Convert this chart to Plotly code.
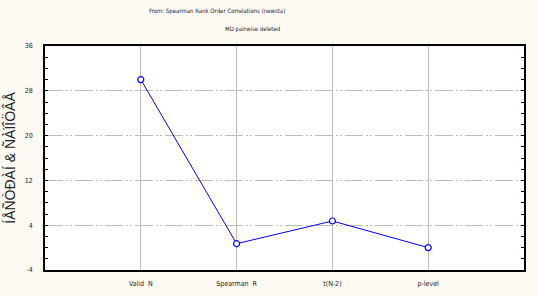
import plotly.graph_objects as go

categories = ["Valid  N", "Spearman  R", "t(N-2)", "p-level"]
values = [30.0, 0.7, 4.75, 0.0]
y_tickvals = [-4, 4, 12, 20, 28, 36]
y_ticktext = ["-4", "4", "12", "20", "28", "36"]

NARROW = "DejaVu Sans Condensed, Liberation Sans Narrow, Liberation Sans, sans-serif"
BG = "#fff9f4"
GRID = "#bcbcbc"
DASH = "18px,3px,2px,2px,2px,3px"

fig = go.Figure()
fig.add_trace(go.Scatter(
    x=list(range(len(categories))), y=values, mode="lines+markers",
    line=dict(color="#0000ff", width=1),
    marker=dict(symbol="circle", size=6, color="white", line=dict(width=1.2, color="#0000ff")),
    showlegend=False,
))

fig.update_layout(
    width=539, height=296,
    margin=dict(l=45, r=15, t=46, b=26),
    paper_bgcolor=BG, plot_bgcolor="white",
    font=dict(family=NARROW, size=7, color="#222"),
    annotations=[
        dict(text="From: Spearman Rank Order Correlations (newsta)", x=217, y=11,
             xref="paper", yref="paper", showarrow=False, font=dict(size=6, family=NARROW)),
        dict(text="MD pairwise deleted", x=252, y=29, xref="paper", yref="paper",
             showarrow=False, font=dict(size=6, family=NARROW)),
    ],
)
pw, ph = 539 - 45 - 15, 296 - 46 - 26
for a in fig.layout.annotations:
    a.x = (a.x - 45) / pw
    a.y = 1 + (46 - a.y) / ph
    a.xanchor = "center"
    a.yanchor = "middle"

fig.update_xaxes(
    range=[-1, 4], tickvals=list(range(len(categories))), ticktext=categories,
    showgrid=True, gridcolor=GRID, gridwidth=1,
    showline=True, linecolor="black", linewidth=1.5, mirror=True,
    ticks="", zeroline=False, tickfont=dict(size=7, family=NARROW),
    ticklabelstandoff=6, automargin=False,
)
fig.update_yaxes(
    range=[-4, 36], tickvals=y_tickvals, ticktext=y_ticktext,
    showgrid=True, gridcolor=GRID, griddash=DASH, gridwidth=1,
    showline=True, linecolor="black", linewidth=1.5, mirror="ticks",
    ticks="inside", ticklen=3, tickcolor="black",
    minor=dict(dtick=2, tick0=0, ticks="inside", ticklen=3, tickcolor="black", showgrid=False),
    zeroline=False, tickfont=dict(size=7, family=NARROW),
    ticklabelstandoff=9, automargin=False,
    title=dict(text="ÍÅÑÒÐÀÍ & ÑÀÏÎÖÂÅ", font=dict(size=14, family="Liberation Sans, Arial, sans-serif"), standoff=6),
)

fig.write_html("out.html")
